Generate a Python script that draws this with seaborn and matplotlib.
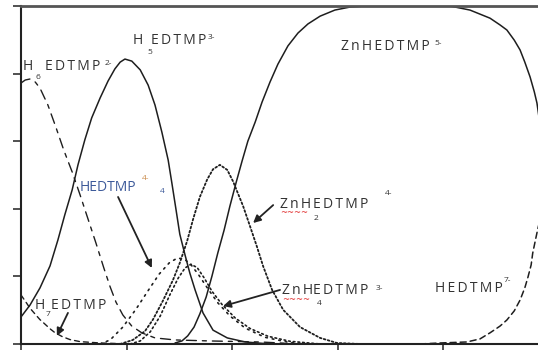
import matplotlib
matplotlib.use("Agg")
import matplotlib.pyplot as plt
import seaborn as sns
import pandas as pd

# Species distribution curves (x = pH-like axis, y = fraction)
h6_x = [0.00, 0.08, 0.17, 0.27, 0.36, 0.51, 0.66, 0.81, 0.97, 1.12, 1.27, 1.42, 1.57, 1.69,
        1.80, 1.93, 2.10, 2.29, 2.54, 2.92, 3.58, 4.53, 5.29]
h6_y = [0.772, 0.781, 0.784, 0.775, 0.757, 0.707, 0.642, 0.574, 0.509, 0.441, 0.370, 0.299,
        0.225, 0.169, 0.124, 0.086, 0.053, 0.033, 0.018, 0.012, 0.009, 0.006, 0.0]

h5_x = [0.00, 0.17, 0.36, 0.55, 0.70, 0.83, 0.97, 1.08, 1.21, 1.34, 1.50, 1.65, 1.78, 1.88,
        1.97, 2.10, 2.26, 2.41, 2.54, 2.67, 2.79, 2.86, 2.94, 3.01, 3.11, 3.20, 3.30, 3.45,
        3.64, 3.91, 4.25, 4.72]
h5_y = [0.080, 0.115, 0.166, 0.231, 0.308, 0.382, 0.456, 0.530, 0.604, 0.669, 0.728, 0.778,
        0.814, 0.834, 0.843, 0.837, 0.811, 0.766, 0.707, 0.627, 0.544, 0.476, 0.396, 0.325,
        0.263, 0.210, 0.160, 0.092, 0.041, 0.018, 0.006, 0.0]

h7_x = [0.00, 0.08, 0.17, 0.27, 0.36, 0.46, 0.55, 0.64, 0.78, 0.93, 1.12, 1.50, 2.07]
h7_y = [0.145, 0.127, 0.106, 0.088, 0.072, 0.058, 0.045, 0.034, 0.022, 0.013, 0.007, 0.003, 0.0]

h4_x = [1.50, 1.69, 1.93, 2.18, 2.41, 2.62, 2.81, 2.96, 3.09, 3.22, 3.37, 3.54, 3.73, 3.96,
        4.25, 4.62, 5.10, 5.48]
h4_y = [0.0, 0.012, 0.050, 0.103, 0.158, 0.207, 0.240, 0.254, 0.252, 0.235, 0.204, 0.164,
        0.122, 0.083, 0.047, 0.020, 0.004, 0.0]

znh4_x = [2.07, 2.26, 2.45, 2.64, 2.82, 2.98, 3.11, 3.22, 3.34, 3.47, 3.62, 3.81, 4.06, 4.34,
          4.68, 5.10, 5.67]
znh4_y = [0.0, 0.009, 0.036, 0.083, 0.145, 0.195, 0.225, 0.236, 0.226, 0.196, 0.156, 0.117,
          0.077, 0.046, 0.023, 0.008, 0.0]

znh2_x = [1.88, 2.12, 2.35, 2.50, 2.69, 2.88, 3.01, 3.15, 3.26, 3.39, 3.53, 3.64, 3.77, 3.91,
          4.02, 4.21, 4.34, 4.47, 4.59, 4.76, 4.97, 5.29, 5.67, 5.99, 6.43]
znh2_y = [0.0, 0.012, 0.038, 0.072, 0.128, 0.189, 0.240, 0.305, 0.368, 0.435, 0.487, 0.517,
          0.530, 0.515, 0.481, 0.408, 0.349, 0.289, 0.230, 0.160, 0.101, 0.050, 0.018, 0.003, 0.0]

znh_x = [2.92, 3.05, 3.16, 3.28, 3.39, 3.51, 3.62, 3.73, 3.85, 3.96, 4.08, 4.19, 4.30, 4.44,
         4.57, 4.72, 4.87, 5.06, 5.25, 5.44, 5.67, 5.95, 6.24, 6.52, 7.20, 8.13, 8.32, 8.51,
         8.70, 8.89, 9.08, 9.21, 9.35, 9.46, 9.55, 9.65, 9.73, 9.78, 9.84]
znh_y = [0.003, 0.009, 0.024, 0.050, 0.089, 0.139, 0.201, 0.269, 0.337, 0.408, 0.479, 0.541,
         0.600, 0.657, 0.716, 0.775, 0.828, 0.882, 0.920, 0.947, 0.970, 0.988, 0.997, 1.0,
         1.0, 1.0, 0.994, 0.988, 0.976, 0.964, 0.944, 0.929, 0.899, 0.870, 0.834, 0.790,
         0.746, 0.713, 0.648]

hfree_x = [7.56, 7.94, 8.45, 8.70, 8.89, 9.08, 9.21, 9.35, 9.46, 9.55, 9.61, 9.67, 9.70,
           9.76, 9.80, 9.86]
hfree_y = [0.0, 0.003, 0.006, 0.015, 0.033, 0.053, 0.071, 0.098, 0.130, 0.166, 0.198, 0.234,
           0.269, 0.314, 0.343, 0.382]

x_ticks = [0, 2, 4, 6, 8]
y_ticks = [0, 0.2, 0.4, 0.6, 0.8, 1.0]

LINE = "#1e1e1e"
TEXT = "#333333"
BLUE = "#3d5a9a"
ORANGE = "#c98a4a"
TS = "\u2009"  # thin space, the labels are letter-spaced

# name, x, y, dash pattern (None = solid), linewidth
series = [
    ("H6EDTMP2-", h6_x, h6_y, (7.2, 4.3, 2.9, 4.3), 1.0),
    ("H5EDTMP3-", h5_x, h5_y, None, 1.1),
    ("H7EDTMP", h7_x, h7_y, (3.6, 2.9), 1.0),
    ("H4EDTMP4-", h4_x, h4_y, (1.0, 3.0), 1.2),
    ("ZnH4EDTMP3-", znh4_x, znh4_y, (1.0, 1.8), 1.2),
    ("ZnH2EDTMP4-", znh2_x, znh2_y, (1.0, 1.3), 1.3),
    ("ZnHEDTMP5-", znh_x, znh_y, None, 1.1),
    ("HEDTMP7-", hfree_x, hfree_y, (4.0, 2.6), 1.1),
]


def spaced(s):
    return TS.join(s)


# label pieces: text, x, y, fontsize, colour
labels = [
    ("H", 0.04, 0.822, 10, TEXT), (spaced("EDTMP"), 0.45, 0.822, 10, TEXT),
    ("2-", 1.59, 0.831, 6, TEXT), ("6", 0.28, 0.787, 6, TEXT),
    ("H", 2.12, 0.899, 10, TEXT), (spaced("EDTMP"), 2.46, 0.899, 10, TEXT),
    ("3-", 3.54, 0.908, 6, TEXT), ("5", 2.39, 0.861, 6, TEXT),
    (spaced("ZnHEDTMP"), 6.07, 0.879, 10, TEXT), ("5-", 7.83, 0.888, 6, TEXT),
    ("HEDTMP", 1.12, 0.464, 10, BLUE), ("4-", 2.29, 0.491, 6, ORANGE),
    ("4", 2.64, 0.450, 6, BLUE),
    (spaced("ZnH"), 4.91, 0.414, 10, TEXT), (spaced("EDTMP"), 5.54, 0.414, 10, TEXT),
    ("4-", 6.90, 0.444, 6, TEXT), ("2", 5.55, 0.370, 6, TEXT),
    (spaced("ZnH"), 4.95, 0.157, 10, TEXT), (spaced("EDTMP"), 5.54, 0.157, 10, TEXT),
    ("3-", 6.73, 0.163, 6, TEXT), ("4", 5.61, 0.121, 6, TEXT),
    (spaced("HEDTMP"), 7.85, 0.163, 10, TEXT), ("7-", 9.14, 0.189, 6, TEXT),
    ("H", 0.25, 0.115, 10, TEXT), (spaced("EDTMP"), 0.57, 0.115, 10, TEXT),
    ("7", 0.47, 0.086, 6, TEXT),
]

# spell-check squiggles under the two "ZnH" labels
squiggles = [(4.91, 0.388), (4.95, 0.131)]

# arrows: (start x, start y, tip x, tip y)
arrows = [
    (1.84, 0.435, 2.48, 0.225),
    (0.89, 0.092, 0.68, 0.024),
    (4.78, 0.411, 4.40, 0.358),
    (4.91, 0.160, 3.83, 0.112),
]

sns.set_style("white")
plt.rcParams["font.family"] = ["Open Sans", "DejaVu Sans"]

fig = plt.figure(figsize=(5.38, 3.51), dpi=100)
ax = fig.add_axes([21 / 538, 7 / 351, 517 / 538, 338 / 351])

for name, xs, ys, dash, lw in series:
    df = pd.DataFrame({"x": xs, "y": ys})
    ls = "-" if dash is None else (0, dash)
    sns.lineplot(data=df, x="x", y="y", ax=ax, color=LINE, lw=lw, linestyle=ls,
                 estimator=None, sort=False)
    ax.lines[-1].set_dash_capstyle("round")

for txt, x, y, fs, col in labels:
    ax.text(x, y, txt, fontsize=fs, color=col, ha="left", va="center")

for x, y in squiggles:
    ax.text(x, y, "~~~~", fontsize=6, color="#e03030", ha="left", va="center",
            family="DejaVu Sans")

for x0, y0, x1, y1 in arrows:
    ax.annotate("", xy=(x1, y1), xytext=(x0, y0),
                arrowprops=dict(arrowstyle="-|>", color="#222222", lw=1.3,
                                mutation_scale=11, shrinkA=0, shrinkB=0))

ax.set_xlim(0, 9.8)
ax.set_ylim(0, 1.0)
ax.set_xticks(x_ticks)
ax.set_yticks(y_ticks)
ax.set_xticklabels([])
ax.set_yticklabels([])
ax.set_xlabel("")
ax.set_ylabel("")
ax.tick_params(axis="y", direction="out", length=6, width=1.1, color="#222222", left=True)
ax.tick_params(axis="x", direction="out", length=4.5, width=1.1, color="#222222", bottom=True)

for side in ["left", "bottom"]:
    ax.spines[side].set_color("#222222")
    ax.spines[side].set_linewidth(1.5)
ax.spines["top"].set_color("#555555")
ax.spines["top"].set_linewidth(2.0)
ax.spines["right"].set_visible(False)

fig.savefig("out.png", dpi=100)
